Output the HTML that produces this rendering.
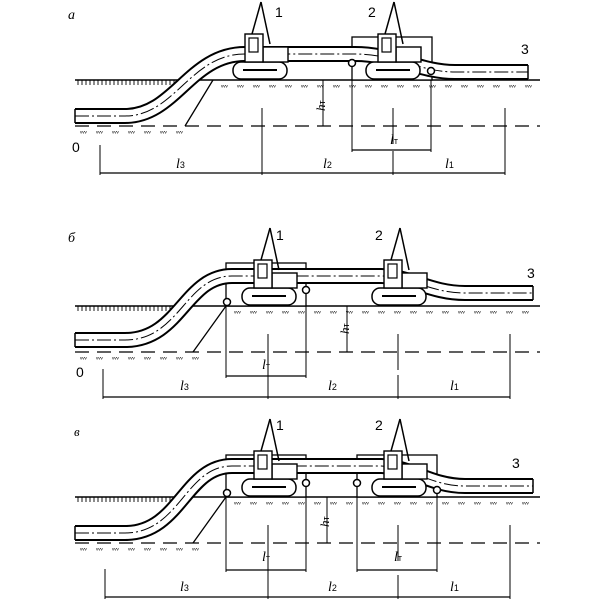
<!DOCTYPE html>
<html><head><meta charset="utf-8"><style>
html,body{margin:0;padding:0;background:#fff;}
svg{display:block;}
text{font-family:"Liberation Sans",sans-serif;fill:#000;}
.it{font-style:italic;font-family:"Liberation Serif",serif;}
.sb{font-style:normal;font-family:"Liberation Sans",sans-serif;font-size:9px;}
</style></head><body>
<svg id="s" width="610" height="599" viewBox="0 0 610 599" xmlns="http://www.w3.org/2000/svg">
<g id="g"></g>
<text x="68" y="19" font-size="14" class="it">а</text>
<text x="275" y="17" font-size="14">1</text>
<text x="368" y="17" font-size="14">2</text>
<text x="521" y="54" font-size="14">3</text>
<text x="72" y="152" font-size="14">0</text>
<text x="312" y="112" font-size="13" class="it" transform="rotate(-90 318 105)">h<tspan class="sb">т</tspan></text>
<text x="390" y="144" font-size="14" class="it">l<tspan class="sb">т</tspan></text>
<text x="176" y="168" font-size="14" class="it">l<tspan class="sb">3</tspan></text>
<text x="323" y="168" font-size="14" class="it">l<tspan class="sb">2</tspan></text>
<text x="445" y="168" font-size="14" class="it">l<tspan class="sb">1</tspan></text>

<text x="68" y="242" font-size="14" class="it">б</text>
<text x="276" y="240" font-size="14">1</text>
<text x="375" y="240" font-size="14">2</text>
<text x="527" y="278" font-size="14">3</text>
<text x="76" y="377" font-size="14">0</text>
<text x="336" y="335" font-size="13" class="it" transform="rotate(-90 342 328)">h<tspan class="sb">т</tspan></text>
<text x="262" y="369" font-size="14" class="it">l<tspan class="sb">т</tspan></text>
<text x="180" y="390" font-size="14" class="it">l<tspan class="sb">3</tspan></text>
<text x="328" y="390" font-size="14" class="it">l<tspan class="sb">2</tspan></text>
<text x="450" y="390" font-size="14" class="it">l<tspan class="sb">1</tspan></text>

<text x="74" y="436" font-size="13" class="it">в</text>
<text x="276" y="430" font-size="14">1</text>
<text x="375" y="430" font-size="14">2</text>
<text x="512" y="468" font-size="14">3</text>
<text x="316" y="528" font-size="13" class="it" transform="rotate(-90 322 521)">h<tspan class="sb">т</tspan></text>
<text x="262" y="561" font-size="14" class="it">l<tspan class="sb">т</tspan></text>
<text x="394" y="561" font-size="14" class="it">l<tspan class="sb">т</tspan></text>
<text x="180" y="591" font-size="14" class="it">l<tspan class="sb">3</tspan></text>
<text x="328" y="591" font-size="14" class="it">l<tspan class="sb">2</tspan></text>
<text x="450" y="591" font-size="14" class="it">l<tspan class="sb">1</tspan></text>
</svg>
<script>
var g=document.getElementById('g');var h='';
function L(x1,y1,x2,y2,w,d){h+='<line x1="'+x1+'" y1="'+y1+'" x2="'+x2+'" y2="'+y2+'" stroke="#000" stroke-width="'+(w||1.3)+'"'+(d?' stroke-dasharray="'+d+'"':'')+'/>';}
function R(x,y,w,hh,rx,sw){h+='<rect x="'+x+'" y="'+y+'" width="'+w+'" height="'+hh+'" rx="'+(rx||0)+'" fill="#fff" stroke="#000" stroke-width="'+(sw||1.4)+'"/>';}
function C(x,y){h+='<circle cx="'+x+'" cy="'+y+'" r="3.5" fill="#fff" stroke="#000" stroke-width="1.5"/>';}
function pipe(d){h+='<path d="'+d+'" fill="none" stroke="#000" stroke-width="16"/><path d="'+d+'" fill="none" stroke="#fff" stroke-width="12"/><path d="'+d+'" fill="none" stroke="#000" stroke-width="1" stroke-dasharray="14 3 2 3"/>';}
function crane(x,G){
 L(x+28,G-78,x+19,G-46,1.5);L(x+28,G-78,x+37,G-36,1.5);
 R(x,G-18,54,17,8,1.5);L(x+10,G-10,x+44,G-10,2);
 R(x+30,G-33,25,15,0,1.4);R(x+12,G-46,18,28,0,1.4);R(x+16,G-42,9,14,0,1.2);
}
function panel(G,D,sx,sxt,p,cr,frames,circ,ht,lt,dim){
 L(75,G,540,G,1.5);
 for(var x=78;x<sx-10;x+=4)L(x,G,x,G+5,0.9);
 for(var x=sxt+8;x<535;x+=16)h+='<text x="'+x+'" y="'+(G+7)+'" font-size="7" font-family="Liberation Sans">ᵥᵥᵥ</text>';
 L(75,D,540,D,1.3,'14 8');
 for(var x=80;x<sx;x+=16)h+='<text x="'+x+'" y="'+(D+7)+'" font-size="7" font-family="Liberation Sans">ᵥᵥᵥ</text>';
 L(sx,D,sxt,G,1.3);
 frames.forEach(function(f){R(f[0],f[1],f[2]-f[0],G-f[1],0,1.3);});
 pipe(p[0]);L(75,p[1]-7,75,p[1]+7,1.5);L(p[2],p[3]-7,p[2],p[3]+7,1.5);
 cr.forEach(function(x){crane(x,G);});
 circ.forEach(function(c){C(c[0],c[1]);});
 L(ht,G,ht,D,1);
 lt.forEach(function(a){L(a[0],G,a[0],a[2]+2,1);L(a[1],G,a[1],a[2]+2,1);L(a[0],a[2],a[1],a[2],1.2);});
 var y=dim[0];L(dim[1],y,dim[4],y,1.2);L(dim[1],y-28,dim[1],y+2,1);
 L(dim[2],D-18,dim[2],y+2,1);L(dim[3],y-22,dim[3],y+2,1);L(dim[3],D-18,dim[3],D+18,1);L(dim[4],D-18,dim[4],y+2,1);
}
panel(80,126,185,213,['M75,116 L125,116 C175,116 190,54 245,54 L355,54 C395,54 420,72 455,72 L528,72',116,528,72],[233,366],[[352,37,432]],[[352,63],[431,71]],323,[[352,431,150]],[173,100,262,393,505]);
panel(306,352,193,226,['M75,340 L125,340 C180,340 185,276 232,276 L380,276 C410,276 430,293 465,293 L533,293',340,533,293],[242,372],[[226,263,306]],[[227,302],[306,290]],347,[[226,306,376]],[397,103,268,398,510]);
panel(497,543,193,226,['M75,533 L125,533 C180,533 185,466 232,466 L380,466 C410,466 430,486 465,486 L533,486',533,533,486],[242,372],[[226,455,306],[357,455,437]],[[227,493],[306,483],[357,483],[437,490]],327,[[226,306,570],[357,437,570]],[597,105,268,398,510]);
g.innerHTML=h;
</script>
</body></html>
